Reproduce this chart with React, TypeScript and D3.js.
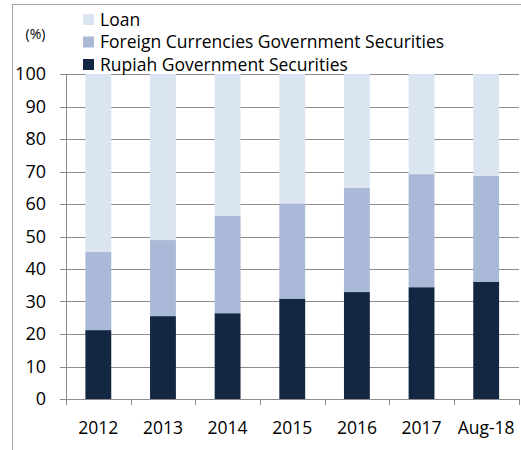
import React from "react";
import * as d3 from "d3";

const categories = ["2012", "2013", "2014", "2015", "2016", "2017", "Aug-18"];
const rupiah = [21.2, 25.5, 26.4, 30.9, 32.9, 34.4, 36.1];
const foreign = [24.1, 23.4, 29.9, 29.3, 32.1, 34.8, 32.6];
const loan = [54.7, 51.1, 43.7, 39.8, 35.0, 30.8, 31.3];
const yTicks = [0, 10, 20, 30, 40, 50, 60, 70, 80, 90, 100];
const seriesNames = ["Rupiah Government Securities", "Foreign Currencies Government Securities", "Loan"];
const seriesKeys = ["rupiah", "foreign", "loan"];
const colors = ["#132742", "#a9b9d7", "#dbe5f1"];
const legendOrder = [2, 1, 0];

const FONT = "'Open Sans', sans-serif";

export default function App() {
  const W = 521, H = 450;
  const left = 66, right = 518.5, top = 74, bottom = 399;
  const x = d3.scaleBand<string>().domain(categories).range([left, right]).paddingInner(0.6).paddingOuter(0.3);
  const y = d3.scaleLinear().domain([0, 100]).range([bottom, top]);
  const rows = categories.map((c, i) => ({ cat: c, rupiah: rupiah[i], foreign: foreign[i], loan: loan[i] }));
  const stacked = d3.stack<any>().keys(seriesKeys)(rows);
  const step = x.step();
  const boundaries = categories.map((_, i) => left + i * step).concat([right]);

  return (
    <svg width={W} height={H} style={{ position: "absolute", left: 0, top: 0, display: "block", background: "#fff" }}>
      <rect x={12.5} y={4.5} width={700} height={700} fill="none" stroke="#a6a6a6" strokeWidth={1} />
      {yTicks.map((t) => (
        <g key={t}>
          <line x1={60} x2={519} y1={Math.round(y(t)) + 0.5} y2={Math.round(y(t)) + 0.5} stroke="#8c8c8c" strokeWidth={1} />
          <text x={46} y={y(t)} dy="0.36em" textAnchor="end" fontFamily={FONT} fontSize={18} fill="#000">{t}</text>
        </g>
      ))}
      {stacked.map((s, si) => (
        <g key={s.key} fill={colors[si]}>
          {s.map((d: any, i: number) => (
            <rect key={i} x={x(categories[i])} width={x.bandwidth()} y={y(d[1])} height={y(d[0]) - y(d[1])} />
          ))}
        </g>
      ))}
      <line x1={left + 0.5} x2={left + 0.5} y1={top} y2={bottom + 6} stroke="#8c8c8c" strokeWidth={1} />
      <line x1={left} x2={519} y1={bottom + 0.5} y2={bottom + 0.5} stroke="#8c8c8c" strokeWidth={1} />
      {boundaries.map((b, i) => (
        <line key={i} x1={Math.round(b) + 0.5} x2={Math.round(b) + 0.5} y1={bottom} y2={bottom + 6} stroke="#8c8c8c" strokeWidth={1} />
      ))}
      {categories.map((c) => (
        <text key={c} x={(x(c) as number) + x.bandwidth() / 2} y={434} textAnchor="middle" fontFamily={FONT} fontSize={17.5} fill="#000">{c}</text>
      ))}
      <text x={35.5} y={39} textAnchor="middle" fontFamily={FONT} fontSize={14} fill="#000">(%)</text>
      {legendOrder.map((si, k) => (
        <g key={si}>
          <rect x={83} y={14 + k * 22.5} width={11} height={11} fill={colors[si]} />
          <text x={100} y={25.5 + k * 22.5} fontFamily={FONT} fontSize={17.5} fill="#000">{seriesNames[si]}</text>
        </g>
      ))}
    </svg>
  );
}
